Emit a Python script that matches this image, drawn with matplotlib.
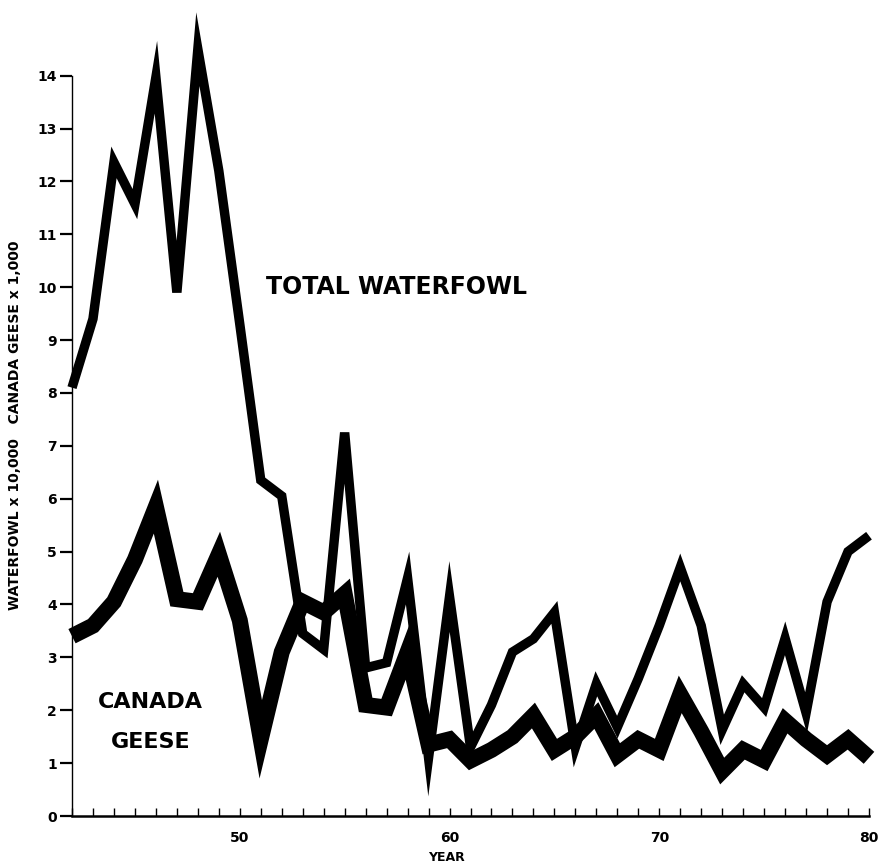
import matplotlib
matplotlib.use("Agg")
import matplotlib.pyplot as plt
from matplotlib.ticker import MultipleLocator

plt.rcParams["font.family"] = ["DejaVu Sans"]

# Jahre (19xx) und Bestände
years = list(range(42, 81))
waterfowl = [8.1, 9.4, 12.36, 11.57, 13.97, 9.9, 14.5, 12.2, 9.3, 6.35,
             6.05, 3.45, 3.15, 7.25, 2.8, 2.9, 4.5, 1.1, 4.15, 1.3,
             2.1, 3.1, 3.35, 3.85, 1.3, 2.5, 1.68, 2.6, 3.6, 4.7,
             3.6, 1.63, 2.5, 2.05, 3.36, 1.95, 4.05, 5.0, 5.3]
geese = [3.4, 3.6, 4.05, 4.85, 5.85, 4.1, 4.05, 4.95, 3.7, 1.45,
         3.1, 4.05, 3.85, 4.2, 2.1, 2.05, 3.1, 1.35, 1.45, 1.05,
         1.25, 1.5, 1.9, 1.25, 1.5, 1.9, 1.15, 1.45, 1.25, 2.3,
         1.6, 0.85, 1.25, 1.05, 1.8, 1.45, 1.15, 1.45, 1.1]
y_ticks = list(range(0, 15))
x_labels = [50, 60, 70, 80]

fig = plt.figure(figsize=(8.8, 8.67), dpi=100)
ax = fig.add_axes([72 / 880, 51 / 867, 797 / 880, 816 / 867])

ax.plot(years, waterfowl, color="black", linewidth=6.8,
        solid_joinstyle="miter", solid_capstyle="butt", clip_on=False)
ax.plot(years, geese, color="black", linewidth=11.5,
        solid_joinstyle="miter", solid_capstyle="butt", clip_on=False)

ax.set_xlim(42, 80)
ax.set_ylim(0, 15.43)

# Achsen
for side in ["top", "right"]:
    ax.spines[side].set_visible(False)
ax.spines["left"].set_bounds(0, 14)
ax.spines["left"].set_linewidth(1.0)
ax.spines["bottom"].set_linewidth(1.8)

ax.set_yticks(y_ticks)
ax.set_yticklabels([str(v) for v in y_ticks], fontsize=10, fontweight="bold")
ax.tick_params(axis="y", direction="out", length=9, width=1.6, pad=2)

ax.set_xticks(x_labels)
ax.set_xticklabels([str(v) for v in x_labels], fontsize=10, fontweight="bold")
ax.xaxis.set_minor_locator(MultipleLocator(1))
ax.tick_params(axis="x", which="both", direction="in", length=6, width=1,
               pad=11)

# Beschriftungen
ax.text(51.26, 10.0, "TOTAL WATERFOWL", fontsize=17, fontweight="bold",
        ha="left", va="center")
ax.text(45.74, 2.15, "CANADA", fontsize=16, fontweight="bold",
        ha="center", va="center")
ax.text(45.74, 1.4, "GEESE", fontsize=16, fontweight="bold",
        ha="center", va="center")

fig.text(0.017, 0.51, "WATERFOWL x 10,000   CANADA GEESE x 1,000",
         rotation=90, fontsize=10, fontweight="bold", ha="center", va="center")
fig.text(0.507, 0.0115, "YEAR", fontsize=9, fontweight="bold",
         ha="center", va="center")

fig.savefig("out.png", dpi=100)
